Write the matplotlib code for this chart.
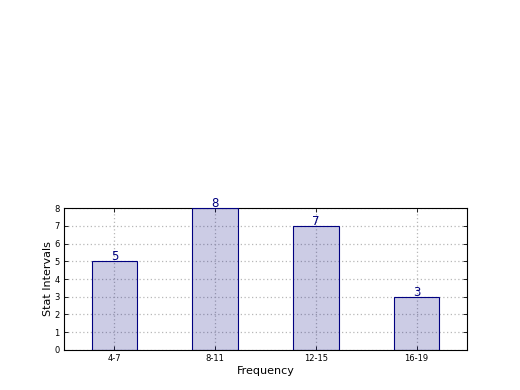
import matplotlib
matplotlib.use('Agg')
import matplotlib.pyplot as plt
import numpy as np

categories = ['4-7', '8-11', '12-15', '16-19']
counts = [5, 8, 7, 3]

fig = plt.figure(figsize=(5.2, 3.9), dpi=100)
ax = fig.add_axes([0.123, 0.1026, 0.775, 0.364])

x = np.arange(len(categories))
ax.bar(x, counts, width=0.45, color='navy', alpha=0.2, edgecolor='none', zorder=2)
ax.bar(x, counts, width=0.45, color='none', edgecolor='navy', linewidth=0.8, zorder=3)

# value labels on top of each bar
for xi, c in zip(x, counts):
    ax.text(xi, c - 0.12, str(c), ha='center', va='bottom', color='navy', fontsize=8.5, zorder=4)

ax.set_xlim(-0.5, 3.5)
ax.set_ylim(0, 8)
ax.set_xticks(x)
ax.set_xticklabels(categories, fontsize=6)
ax.set_yticks(range(0, 9))
ax.tick_params(axis='y', labelsize=6)
ax.tick_params(direction='in', top=True, right=True, length=3, width=0.6, pad=3)
ax.grid(True, linestyle=(0, (1, 2)), color='#b8b8b8', linewidth=0.9, zorder=0)
ax.set_axisbelow(True)

ax.set_xlabel('Frequency', fontsize=8, labelpad=2)
ax.set_ylabel('Stat Intervals', fontsize=8, labelpad=1)
for s in ax.spines.values():
    s.set_linewidth(0.8)

fig.savefig('out.png', dpi=100)
